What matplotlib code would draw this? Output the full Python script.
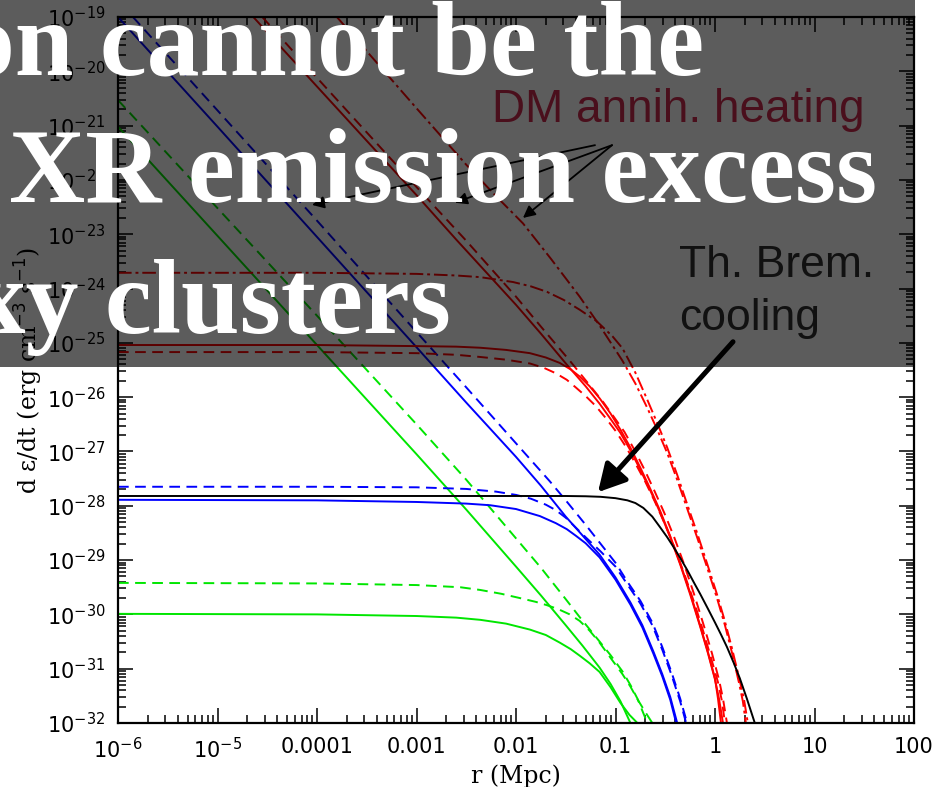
import numpy as np
import matplotlib
matplotlib.use('Agg')
import matplotlib.pyplot as plt
from matplotlib import font_manager
from matplotlib.patches import Rectangle
from matplotlib.ticker import LogLocator, FixedLocator, NullFormatter

# all curves as log10(r / Mpc) and log10(d eps/dt)
# Th. Brem. cooling
brem_lr = [-6.0, -2.0, -1.5, -1.3, -1.15, -1.0, -0.88, -0.8, -0.72, -0.63, -0.55, -0.48, -0.42, -0.35,
           -0.28, -0.21, -0.15, -0.07, 0.0, 0.06, 0.12, 0.19, 0.25, 0.32, 0.40]
brem_lv = [-27.82, -27.82, -27.82, -27.825, -27.835, -27.86, -27.9, -27.95, -28.04, -28.2, -28.4, -28.58,
           -28.75, -28.96, -29.18, -29.42, -29.62, -29.9, -30.15, -30.37, -30.6, -30.9, -31.18, -31.55, -32.0]

# blue: power-law (p) and cored (f), solid (s) / dashed (d)
bsp_lr = [-6.0, -5.0, -4.0, -3.0, -2.5, -2.0, -1.75, -1.5, -1.33, -1.16, -1.0, -0.85, -0.73, -0.62,
          -0.53, -0.45, -0.38]
bsp_lv = [-19.0, -21.02, -23.05, -25.08, -26.1, -27.1, -27.63, -28.2, -28.55, -28.9, -29.32, -29.78,
          -30.2, -30.68, -31.1, -31.52, -32.0]
bsf_lr = [-6.0, -4.0, -3.0, -2.5, -2.26, -2.0, -1.76, -1.6, -1.49, -1.4, -1.3, -1.16, -1.0, -0.85,
          -0.73, -0.62, -0.53, -0.45, -0.39]
bsf_lv = [-27.89, -27.9, -27.93, -27.96, -27.99, -28.06, -28.19, -28.32, -28.43, -28.55, -28.69, -28.95,
          -29.36, -29.82, -30.24, -30.72, -31.14, -31.57, -32.0]
bdp_lr = [-5.85, -5.0, -4.0, -3.0, -2.5, -2.0, -1.66, -1.5, -1.3, -1.15, -1.0, -0.88, -0.75, -0.63,
          -0.53, -0.44, -0.35, -0.28]
bdp_lv = [-19.0, -20.72, -22.75, -24.8, -25.82, -26.85, -27.55, -27.9, -28.35, -28.7, -29.05, -29.4,
          -29.75, -30.15, -30.6, -31.05, -31.55, -32.0]
bdf_lr = [-6.0, -4.0, -3.0, -2.5, -2.2, -2.0, -1.85, -1.7, -1.6, -1.5, -1.4, -1.3, -1.15, -1.0,
          -0.88, -0.75, -0.63, -0.53, -0.44, -0.35, -0.29]
bdf_lv = [-27.65, -27.65, -27.66, -27.69, -27.74, -27.8, -27.87, -27.98, -28.08, -28.22, -28.4, -28.58,
          -28.84, -29.12, -29.45, -29.8, -30.2, -30.65, -31.1, -31.6, -32.0]

# green
gsp_lr = [-6.0, -5.0, -4.0, -3.0, -2.5, -2.0, -1.75, -1.5, -1.33, -1.16, -1.05, -0.95, -0.85]
gsp_lv = [-21.02, -23.03, -25.04, -27.05, -28.07, -29.12, -29.65, -30.2, -30.58, -30.98, -31.28, -31.6, -32.0]
gsf_lr = [-6.0, -4.0, -3.0, -2.6, -2.36, -2.1, -1.86, -1.7, -1.56, -1.45, -1.36, -1.26, -1.16, -1.05,
          -0.95, -0.86, -0.78]
gsf_lv = [-29.99, -30.0, -30.03, -30.06, -30.1, -30.17, -30.28, -30.38, -30.52, -30.64, -30.76, -30.9,
          -31.06, -31.34, -31.63, -31.85, -32.0]
gdp_lr = [-6.0, -5.0, -4.0, -3.0, -2.5, -2.0, -1.75, -1.5, -1.36, -1.16, -1.05, -0.93, -0.85, -0.78, -0.68]
gdp_lv = [-20.53, -22.52, -24.5, -26.5, -27.52, -28.6, -29.14, -29.72, -30.05, -30.5, -30.75, -31.05,
          -31.3, -31.55, -32.0]
gdf_lr = [-6.0, -4.0, -3.0, -2.56, -2.36, -2.15, -1.96, -1.8, -1.69, -1.58, -1.46, -1.36, -1.26, -1.16,
          -1.05, -0.93, -0.85, -0.78, -0.7, -0.63]
gdf_lv = [-29.42, -29.43, -29.46, -29.5, -29.55, -29.62, -29.7, -29.77, -29.83, -29.9, -30.0, -30.12,
          -30.3, -30.52, -30.8, -31.1, -31.33, -31.56, -31.8, -32.0]

# red (solid, dashed, dash-dot)
rsp_lr = [-4.64, -4.0, -3.0, -2.6, -2.0, -1.75, -1.49, -1.3, -1.16, -1.05, -0.95, -0.85, -0.75, -0.65,
          -0.55, -0.45, -0.35, -0.25, -0.15, -0.07, 0.0, 0.04, 0.08]
rsp_lv = [-19.0, -20.28, -22.28, -23.1, -24.3, -24.83, -25.4, -25.8, -26.12, -26.4, -26.66, -26.98,
          -27.34, -27.72, -28.13, -28.58, -29.08, -29.63, -30.22, -30.72, -31.2, -31.55, -32.0]
rdp_lr = [-4.55, -4.0, -3.0, -2.5, -2.0, -1.75, -1.45, -1.26, -1.12, -1.01, -0.91, -0.81, -0.71, -0.61,
          -0.51, -0.41, -0.31, -0.21, -0.11, -0.03, 0.04, 0.08, 0.12]
rdp_lv = [-19.0, -20.12, -22.13, -23.12, -24.15, -24.7, -25.35, -25.78, -26.1, -26.38, -26.64, -26.97,
          -27.33, -27.72, -28.13, -28.58, -29.08, -29.63, -30.22, -30.72, -31.2, -31.55, -32.0]
rsf_lr = [-6.0, -4.0, -3.0, -2.6, -2.36, -2.1, -1.86, -1.7, -1.56, -1.45, -1.36, -1.26, -1.16, -1.05,
          -0.95, -0.85, -0.75, -0.65, -0.55, -0.45, -0.35, -0.25, -0.15, -0.07, 0.0, 0.03, 0.06]
rsf_lv = [-25.04, -25.04, -25.06, -25.07, -25.09, -25.13, -25.19, -25.27, -25.37, -25.49, -25.62, -25.8,
          -26.02, -26.3, -26.6, -26.93, -27.3, -27.69, -28.1, -28.56, -29.06, -29.6, -30.2, -30.7,
          -31.18, -31.55, -32.0]
rdf_lr = [-6.0, -4.0, -3.0, -2.6, -2.36, -2.1, -1.86, -1.72, -1.6, -1.49, -1.4, -1.3, -1.2, -1.1, -1.0,
          -0.9, -0.8, -0.7, -0.6, -0.5, -0.4, -0.3, -0.2, -0.12, -0.04, 0.03, 0.07, 0.1]
rdf_lv = [-25.17, -25.17, -25.19, -25.22, -25.26, -25.31, -25.38, -25.46, -25.56, -25.68, -25.82, -25.98,
          -26.16, -26.38, -26.62, -26.9, -27.22, -27.56, -27.94, -28.35, -28.8, -29.3, -29.83, -30.3,
          -30.8, -31.25, -31.6, -32.0]
rcp_lr = [-3.8, -3.0, -2.5, -2.2, -1.93, -1.65, -1.36, -1.16, -0.93, -0.8, -0.68, -0.58, -0.48, -0.38,
          -0.28, -0.18, -0.08, 0.02, 0.1, 0.17, 0.24, 0.28, 0.31]
rcp_lv = [-19.0, -20.68, -21.72, -22.3, -22.8, -23.45, -24.15, -24.68, -25.33, -25.75, -26.2, -26.6,
          -27.03, -27.52, -28.05, -28.58, -29.13, -29.7, -30.2, -30.7, -31.25, -31.6, -32.0]
rcf_lr = [-6.0, -4.0, -3.0, -2.6, -2.36, -2.03, -1.85, -1.69, -1.52, -1.36, -1.19, -1.03, -0.93, -0.8,
          -0.68, -0.58, -0.48, -0.38, -0.28, -0.18, -0.08, 0.02, 0.1, 0.17, 0.24, 0.29, 0.33]
rcf_lv = [-23.71, -23.71, -23.73, -23.76, -23.79, -23.88, -23.96, -24.06, -24.21, -24.39, -24.6, -24.88,
          -25.1, -25.55, -26.05, -26.48, -26.93, -27.43, -27.97, -28.5, -29.06, -29.63, -30.13, -30.62,
          -31.15, -31.55, -32.0]

xtick_vals = [1e-6, 1e-5, 1e-4, 1e-3, 1e-2, 1e-1, 1, 10, 100]
xtick_labels = ['$10^{-6}$', '$10^{-5}$', '0.0001', '0.001', '0.01', '0.1', '1', '10', '100']

title_lines = ['on cannot be the', 'XR emission excess', 'xy clusters']

plt.rcParams['font.family'] = ['DejaVu Sans']

fig = plt.figure(figsize=(9.43, 7.87), dpi=100)
ax = fig.add_axes([118/943, 64/787, 796/943, 706/787])

GREEN = '#00e600'
BLUE = '#0000ff'
RED = '#ff0000'
dash = (0, (5.5, 3.3))
dashdot = (0, (7, 2, 1.5, 2))
lw = 1.4

def curve(lr, lv, color, ls):
    ax.plot(10**np.array(lr), 10**np.array(lv), color=color, ls=ls, lw=lw)

curve(gsp_lr, gsp_lv, GREEN, '-')
curve(gsf_lr, gsf_lv, GREEN, '-')
curve(gdp_lr, gdp_lv, GREEN, dash)
curve(gdf_lr, gdf_lv, GREEN, dash)
curve(bsp_lr, bsp_lv, BLUE, '-')
curve(bsf_lr, bsf_lv, BLUE, '-')
curve(bdp_lr, bdp_lv, BLUE, dash)
curve(bdf_lr, bdf_lv, BLUE, dash)
curve(rsp_lr, rsp_lv, RED, '-')
curve(rsf_lr, rsf_lv, RED, '-')
curve(rdp_lr, rdp_lv, RED, dash)
curve(rdf_lr, rdf_lv, RED, dash)
curve(rcp_lr, rcp_lv, RED, dashdot)
curve(rcf_lr, rcf_lv, RED, dashdot)
curve(brem_lr, brem_lv, 'black', '-')

ax.set_xscale('log')
ax.set_yscale('log')
ax.set_xlim(1e-6, 100)
ax.set_ylim(1e-32, 1e-19)

ax.xaxis.set_major_locator(FixedLocator(xtick_vals))
ax.set_xticklabels(xtick_labels)
ax.xaxis.set_minor_locator(LogLocator(base=10, subs=np.arange(2, 10), numticks=50))
ax.xaxis.set_minor_formatter(NullFormatter())
ax.yaxis.set_major_locator(LogLocator(base=10, numticks=30))
ax.yaxis.set_minor_locator(LogLocator(base=10, subs=np.arange(2, 10), numticks=200))
ax.yaxis.set_minor_formatter(NullFormatter())

ax.tick_params(which='both', direction='in', top=True, right=True, width=1.1)
ax.tick_params(which='major', length=11, labelsize=15)
ax.tick_params(which='minor', length=5.5)
ax.tick_params(axis='y', which='major', pad=9)
ax.tick_params(axis='x', which='major', pad=10)
for s in ax.spines.values():
    s.set_linewidth(1.6)

ax.set_xlabel('r (Mpc)', family='DejaVu Serif', fontsize=17, labelpad=2)
ax.set_ylabel('d \u03b5/dt (erg cm$^{-3}$ s$^{-1}$)', family='DejaVu Serif', fontsize=17, labelpad=1)

# arrows pointing at the DM heating curves
arr = dict(arrowstyle='-|>', lw=1.3, color='black', mutation_scale=18, shrinkA=0, shrinkB=0)
ax.annotate('', xy=(10**-4.05, 10**-22.46), xytext=(10**-1.206, 10**-21.36), arrowprops=arr, annotation_clip=False)
ax.annotate('', xy=(10**-2.613, 10**-22.42), xytext=(10**-1.035, 10**-21.36), arrowprops=arr, annotation_clip=False)
ax.annotate('', xy=(10**-1.93, 10**-22.70), xytext=(10**-1.035, 10**-21.36), arrowprops=arr, annotation_clip=False)
# thick arrow to the bremsstrahlung curve
ax.annotate('', xy=(10**-1.176, 10**-27.75), xytext=(10**0.181, 10**-24.98),
            arrowprops=dict(arrowstyle='-|>,head_length=0.55,head_width=0.3', lw=3.6, color='black',
                            mutation_scale=30, shrinkA=0, shrinkB=0),
            annotation_clip=False, zorder=12)

# dark band of the slide title
fig.add_artist(Rectangle((0, 1 - 367/787), 915/943, 367/787, transform=fig.transFigure,
                         facecolor='black', edgecolor='none', alpha=0.64, zorder=10))

names = {f.name for f in font_manager.fontManager.ttflist}
if 'Liberation Sans Narrow' in names:
    brem_font, brem_size = 'Liberation Sans Narrow', 38
else:
    brem_font, brem_size = 'Liberation Sans', 32

fig.text(492/943, 1 - 122/787, 'DM annih. heating', family='Liberation Sans', fontsize=33,
         color='#4a0f1c', ha='left', va='baseline', zorder=11)
fig.text(679/943, 1 - 277/787, 'Th. Brem.', family=brem_font, fontsize=brem_size,
         color='#111111', ha='left', va='baseline', zorder=11)
fig.text(679/943, 1 - 330/787, 'cooling', family=brem_font, fontsize=brem_size,
         color='#111111', ha='left', va='baseline', zorder=11)

for txt, xr, yb in zip(title_lines, [704, 877, 451], [75, 202, 333]):
    fig.text(xr/943, 1 - yb/787, txt, family='Liberation Serif', weight='bold', fontsize=76,
             color='white', ha='right', va='baseline', zorder=12)

fig.savefig('out.png', dpi=100)
